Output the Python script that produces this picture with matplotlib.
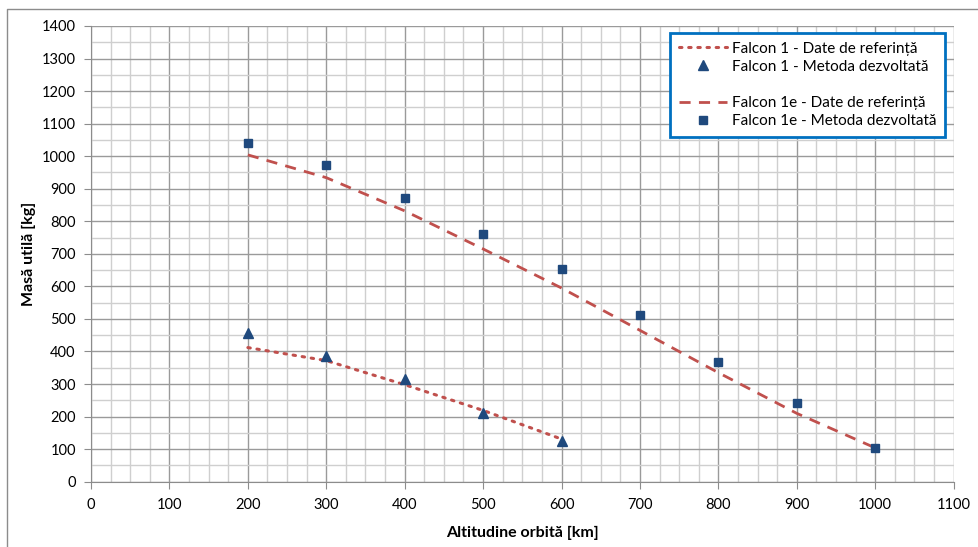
import matplotlib.pyplot as plt
from matplotlib.lines import Line2D
from matplotlib.ticker import MultipleLocator

plt.rcParams['font.family'] = ['Lato', 'DejaVu Sans']

# data
alt_f1 = [200, 300, 400, 500, 600]
ref_f1 = [412, 372, 298, 219, 131]
met_f1 = [457, 385, 316, 210, 125]

alt_f1e = [200, 300, 400, 500, 600, 700, 800, 900, 1000]
ref_f1e = [1004, 934, 832, 715, 595, 465, 335, 210, 104]
met_f1e = [1040, 972, 872, 760, 652, 511, 369, 243, 105]

red = '#C0504D'
blue = '#1F497D'

fig = plt.figure(figsize=(9.79, 5.47), dpi=100)
ax = fig.add_axes([0.093, 0.1194, 0.881, 0.8331])

# outer chart border (only top and left edges fall inside the image)
bx, by = 7.5 / 979, 1 - 9 / 547
fig.add_artist(Line2D([bx, bx, 1], [0, by, by], transform=fig.transFigure,
                      color='#8c8c8c', linewidth=1.0))

dotted = (0, (0.8, 2.2))
dashed = (0, (4, 3))

ax.plot(alt_f1, ref_f1, color=red, linestyle=dotted, linewidth=2.2, dash_capstyle='round')
ax.plot(alt_f1, met_f1, linestyle='none', marker='^', markersize=7.5, color=blue)
ax.plot(alt_f1e, ref_f1e, color=red, linestyle=dashed, linewidth=2)
ax.plot(alt_f1e, met_f1e, linestyle='none', marker='s', markersize=5.5, color=blue)

ax.set_xlim(0, 1100)
ax.set_ylim(0, 1400)
ax.xaxis.set_major_locator(MultipleLocator(100))
ax.xaxis.set_minor_locator(MultipleLocator(25))
ax.yaxis.set_major_locator(MultipleLocator(100))
ax.yaxis.set_minor_locator(MultipleLocator(50))
ax.grid(which='major', color='#9a9a9a', linewidth=1.0)
ax.grid(which='minor', color='#cfcfcf', linewidth=1.0)
ax.set_axisbelow(True)

for s in ['top', 'right']:
    ax.spines[s].set_visible(False)
for s in ['left', 'bottom']:
    ax.spines[s].set_color('#8c8c8c')
ax.tick_params(which='major', direction='out', length=5, color='#8c8c8c', labelsize=10.5)
ax.tick_params(axis='x', which='major', pad=7)
ax.tick_params(axis='y', which='major', pad=6)
ax.tick_params(which='minor', length=0)

ax.set_xlabel('Altitudine orbită [km]', fontsize=11.5, fontweight='bold', labelpad=10)
ax.set_ylabel('Masă utilă [kg]', fontsize=11.5, fontweight='bold', labelpad=4)

handles = [
    Line2D([], [], color=red, linestyle=dotted, linewidth=2.2, dash_capstyle='round'),
    Line2D([], [], linestyle='none', marker='^', markersize=7.5, color=blue),
    Line2D([], [], linestyle='none'),
    Line2D([], [], color=red, linestyle=dashed, linewidth=2),
    Line2D([], [], linestyle='none', marker='s', markersize=5.5, color=blue),
]
labels = ['Falcon 1 - Date de referință', 'Falcon 1 - Metoda dezvoltată', ' ',
          'Falcon 1e - Date de referință', 'Falcon 1e - Metoda dezvoltată']
leg = ax.legend(handles, labels, loc='upper right', bbox_to_anchor=(0.99, 0.984), fontsize=11,
                frameon=True, fancybox=False, handlelength=3.2, handletextpad=0.3,
                labelspacing=0.27, borderpad=0.55, borderaxespad=0)
leg.get_frame().set_edgecolor('#0070C0')
leg.get_frame().set_linewidth(2)
leg.get_frame().set_alpha(1)

fig.savefig('out.png', dpi=100)
